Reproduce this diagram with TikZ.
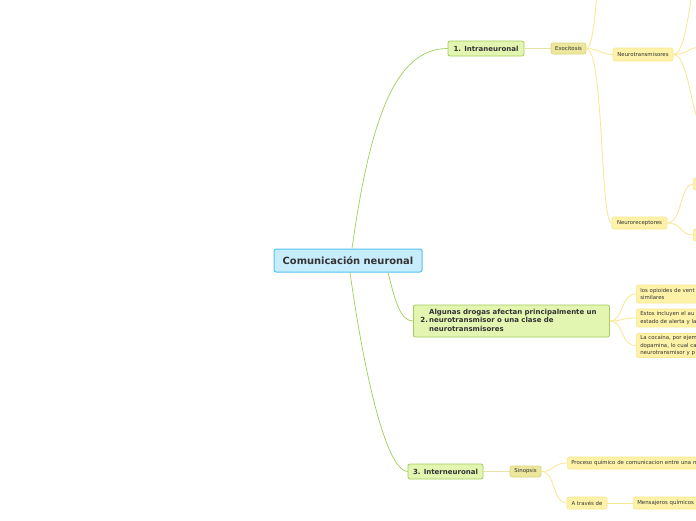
\documentclass[tikz,border=0pt]{standalone}
\usepackage{fontspec}
\setmainfont{DejaVu Sans}

\definecolor{rootfill}{HTML}{C7ECFB}
\definecolor{rootline}{HTML}{55C4F0}
\definecolor{mainfill}{HTML}{E2F6B2}
\definecolor{mainline}{HTML}{A2CE58}
\definecolor{subfill}{HTML}{ECE79C}
\definecolor{subline}{HTML}{DCD57E}
\definecolor{leaffill}{HTML}{FEF2A8}
\definecolor{leafline}{HTML}{F8E791}
\definecolor{txt}{HTML}{333333}

\tikzset{
 box/.style={rounded corners=2pt, inner sep=0pt, text=txt, align=left},
 rootbox/.style={box, fill=rootfill, draw=rootline, line width=1pt,
   font=\fontsize{9.9}{12}\selectfont\bfseries, minimum width=148pt, minimum height=23pt},
 mainbox/.style={box, fill=mainfill, draw=mainline, line width=0.8pt,
   font=\fontsize{7}{8.5}\selectfont\bfseries, minimum height=15pt},
 subbox/.style={box, fill=subfill, draw=subline, line width=0.6pt,
   font=\fontsize{5.4}{6.5}\selectfont, minimum height=11pt},
 leafbox/.style={box, fill=leaffill, draw=leafline, line width=0.6pt,
   font=\fontsize{5.4}{7.8}\selectfont, minimum height=12pt},
 cutbox/.style={leafbox, anchor=west, text width=80pt, inner xsep=4pt},
 mainedge/.style={draw=mainline, line width=0.7pt},
 subedge/.style={draw=subline!70, line width=1.3pt},
 leafedge/.style={draw=leafline, line width=0.8pt},
}

\begin{document}
\begin{tikzpicture}[x=1pt,y=-1pt]
 \useasboundingbox (0,0) rectangle (696,520);
 \fill[white] (0,0) rectangle (696,520);
 \clip (0,0) rectangle (696,520);

 % nodes
 \node[rootbox] (C) at (348,260.5) {Comunicación neuronal};
 \node[mainbox, minimum width=76pt] (I1) at (486,48.5) {1. Intraneuronal};
 \node[mainbox, anchor=west, text width=182pt, inner xsep=7pt, minimum height=32pt] (I2) at (413,321)
   {\begin{tabular}{@{}l@{\,}l@{}} & Algunas drogas afectan principalmente un\\
    2. & neurotransmisor o una clase de\\ & neurotransmisores\end{tabular}};
 \node[mainbox, minimum width=75pt] (I3) at (445.5,471.5) {3. Interneuronal};

 \node[subbox, minimum width=35pt] (Exo) at (568.5,48.5) {Exocitosis};
 \node[leafbox, minimum width=60pt, minimum height=13pt] (Ntr) at (643,54.5) {Neurotransmisores};
 \node[leafbox, minimum width=55pt] (Nrc) at (639.5,223) {Neuroreceptores};
 \node[leafbox, anchor=west, minimum width=20pt] (Nr1) at (693,184) {};
 \node[leafbox, anchor=west, minimum width=20pt] (Nr2) at (693,235) {};
 \coordinate (Ex0) at (612,-120);
 \coordinate (Nt1) at (712,-60);
 \coordinate (Nt2) at (702,47);
 \coordinate (Nt3) at (714,140);

 \node[cutbox, minimum height=18pt] (D1) at (636,294) {los opioides de vent\\similares};
 \node[cutbox, minimum height=18pt] (D2) at (636,318) {Estos incluyen el au\\estado de alerta y la};
 \node[cutbox, minimum height=24pt] (D3) at (636,345.5) {La cocaína, por ejem\\dopamina, lo cual ca\\neurotransmisor y p};

 \node[subbox, minimum width=31pt] (Sin) at (525.5,471.5) {Sinopsis};
 \node[cutbox, text width=140pt] (Pro) at (567,463) {Proceso químico de comunicacion entre una n};
 \node[leafbox, minimum width=40pt] (Atr) at (587,503) {A través de};
 \node[cutbox, text width=70pt] (Men) at (633,503) {Mensajeros químicos};

 % connectors
 \draw[mainedge] (C.north -| 352,0) .. controls (370,120) and (395,48.5) .. (I1.west);
 \draw[mainedge] (C.south -| 388,0) .. controls (395,300) and (400,321) .. (I2.west);
 \draw[mainedge] (C.south -| 350,0) .. controls (368,400) and (390,471.5) .. (I3.west);

 \draw[subedge] (I1.east) -- (Exo.west);
 \draw[leafedge] (Exo.east) .. controls (600,48.5) and (598,-120) .. (Ex0);
 \draw[leafedge] (Exo.east) .. controls (600,48.5) and (600,54.5) .. (Ntr.west);
 \draw[leafedge] (Exo.east) .. controls (604,48.5) and (600,223) .. (Nrc.west);
 \draw[leafedge] (Ntr.east) .. controls (692,54.5) and (690,-60) .. (Nt1);
 \draw[leafedge] (Ntr.east) .. controls (688,54.5) and (688,47) .. (Nt2);
 \draw[leafedge] (Ntr.east) .. controls (692,54.5) and (690,140) .. (Nt3);
 \draw[leafedge] (Nrc.east) .. controls (682,223) and (680,184) .. (Nr1.west);
 \draw[leafedge] (Nrc.east) .. controls (682,223) and (680,235) .. (Nr2.west);

 \draw[leafedge] (I2.east) .. controls (624,321) and (620,294) .. (D1.west);
 \draw[leafedge] (I2.east) .. controls (624,321) and (620,318) .. (D2.west);
 \draw[leafedge] (I2.east) .. controls (624,321) and (620,345.5) .. (D3.west);

 \draw[subedge] (I3.east) -- (Sin.west);
 \draw[leafedge] (Sin.east) .. controls (555,471.5) and (552,463) .. (Pro.west);
 \draw[leafedge] (Sin.east) .. controls (556,471.5) and (552,503) .. (Atr.west);
 \draw[leafedge] (Atr.east) -- (Men.west);
\end{tikzpicture}
\end{document}
